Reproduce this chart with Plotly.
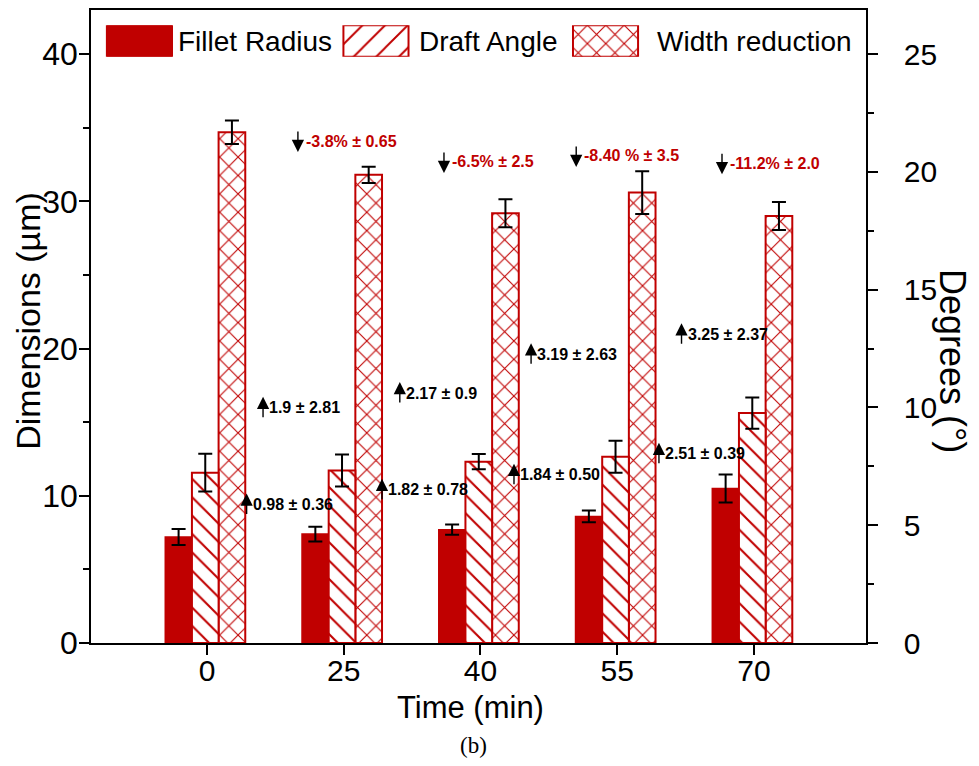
import plotly.graph_objects as go

# ---------------- data ----------------
time_labels = ["0", "25", "40", "55", "70"]
fillet_radius = [7.2, 7.4, 7.7, 8.6, 10.5]          # µm (left axis)
fillet_err = [0.55, 0.5, 0.35, 0.4, 0.95]
draft_angle = [7.23, 7.32, 7.7, 7.91, 9.76]          # degrees (right axis)
draft_err = [0.8, 0.68, 0.32, 0.68, 0.66]
width_reduction = [34.7, 31.8, 29.2, 30.6, 29.0]     # µm (left axis)
width_err = [0.8, 0.55, 0.95, 1.45, 0.95]

# increase annotations (black, up arrows): label, x (category units), y (µm)
up_labels = ["0.98 ± 0.36", "1.9 ± 2.81", "2.17 ± 0.9", "1.82 ± 0.78",
             "3.19 ± 2.63", "1.84 ± 0.50", "2.51 ± 0.39", "3.25 ± 2.37"]
up_x = [0.29, 0.41, 1.41, 1.28, 2.37, 2.245, 3.305, 3.47]
up_y = [9.4, 15.97, 16.98, 10.4, 19.62, 11.43, 12.86, 20.97]

# decrease annotations (red, down arrows)
down_labels = ["-3.8% ± 0.65", "-6.5% ± 2.5", "-8.40 % ± 3.5", "-11.2% ± 2.0"]
down_x = [0.665, 1.733, 2.70, 3.766]
down_y = [34.1, 32.68, 33.09, 32.6]

legend_names = ["Fillet Radius", "Draft Angle", "Width reduction"]

# ---------------- style ----------------
RED = "#C00000"
FONT = "Liberation Sans, Arial, sans-serif"
BAR_W = 0.195
idx = list(range(len(time_labels)))
Y_MAX = 43.0
DEG_PER_UM = 25.0 / 40.0

fig = go.Figure()

err_style = dict(type="data", color="black", thickness=2, width=7, visible=True)

fig.add_trace(go.Bar(
    x=idx, y=fillet_radius, width=BAR_W, offset=-0.305,
    marker=dict(color=RED, line=dict(color=RED, width=1.5)),
    error_y=dict(array=fillet_err, **err_style),
    name=legend_names[0], showlegend=False, yaxis="y"))

fig.add_trace(go.Bar(
    x=idx, y=draft_angle, width=BAR_W, offset=-0.11,
    marker=dict(color="white", line=dict(color=RED, width=2),
                pattern=dict(shape="\\", fgcolor=RED, bgcolor="white", fgopacity=1,
                             size=13, solidity=0.16)),
    error_y=dict(array=draft_err, **err_style),
    name=legend_names[1], showlegend=False, yaxis="y2"))

fig.add_trace(go.Bar(
    x=idx, y=width_reduction, width=BAR_W, offset=0.085,
    marker=dict(color="white", line=dict(color=RED, width=2),
                pattern=dict(shape="x", fgcolor=RED, bgcolor="white", fgopacity=1,
                             size=13, solidity=0.16)),
    error_y=dict(array=width_err, **err_style),
    name=legend_names[2], showlegend=False, yaxis="y"))

# ---------------- custom legend (overlay axes) ----------------
leg_centers = [0.0625, 0.3677, 0.6639]   # paper fraction of plot width
leg_w = 0.084
leg_patterns = [None,
                dict(shape="/", fgcolor=RED, bgcolor="white", fgopacity=1, size=16, solidity=0.12),
                dict(shape="x", fgcolor=RED, bgcolor="white", fgopacity=1, size=13, solidity=0.16)]
for c, p in zip(leg_centers, leg_patterns):
    mk = dict(color=RED if p is None else "white", line=dict(color=RED, width=2))
    if p is not None:
        mk["pattern"] = p
    fig.add_trace(go.Bar(x=[c], y=[1], width=leg_w, marker=mk, xaxis="x3", yaxis="y3",
                         showlegend=False, hoverinfo="skip"))

leg_text_x = [0.1097, 0.4206, 0.7277]
for name, lx in zip(legend_names, leg_text_x):
    fig.add_annotation(text=name, x=lx, y=0.951, xref="paper", yref="paper",
                       xanchor="left", yanchor="middle", showarrow=False,
                       font=dict(family=FONT, size=28, color="black"))

# ---------------- value annotations ----------------
for lab, x, y in zip(up_labels, up_x, up_y):
    fig.add_annotation(x=x, y=y + 0.75, xref="x", yref="y", text="", showarrow=True,
                       ax=0, ay=22, arrowhead=2, arrowsize=1.75, arrowwidth=1.4,
                       arrowcolor="black")
    fig.add_annotation(x=x, y=y, xref="x", yref="y", text=lab, showarrow=False,
                       xanchor="left", yanchor="middle", xshift=4,
                       font=dict(family=FONT, size=16, color="black", weight="bold"))

for lab, x, y in zip(down_labels, down_x, down_y):
    fig.add_annotation(x=x, y=y - 0.75, xref="x", yref="y", text="", showarrow=True,
                       ax=0, ay=-22, arrowhead=2, arrowsize=1.75, arrowwidth=1.4,
                       arrowcolor="black")
    fig.add_annotation(x=x, y=y, xref="x", yref="y", text=lab, showarrow=False,
                       xanchor="left", yanchor="middle", xshift=6,
                       font=dict(family=FONT, size=16, color=RED, weight="bold"))

# ---------------- axis titles ----------------
fig.add_annotation(text="Dimensions (µm)", x=-0.0813, y=0.509, xref="paper", yref="paper",
                   textangle=-90, showarrow=False, xanchor="center", yanchor="middle",
                   font=dict(family=FONT, size=34, color="black"))
fig.add_annotation(text="Degrees (°)", x=1.112, y=0.446, xref="paper", yref="paper",
                   textangle=90, showarrow=False, xanchor="center", yanchor="middle",
                   font=dict(family=FONT, size=36, color="black"))
fig.add_annotation(text="Time (min)", x=0.490, y=-0.102, xref="paper", yref="paper",
                   showarrow=False, xanchor="center", yanchor="middle",
                   font=dict(family=FONT, size=31, color="black"))
fig.add_annotation(text="(b)", x=0.494, y=-0.162, xref="paper", yref="paper",
                   showarrow=False, xanchor="center", yanchor="middle",
                   font=dict(family="Liberation Serif, Times New Roman, serif", size=23,
                             color="black"))

axis_common = dict(showline=True, linecolor="black", linewidth=1.5, showgrid=False,
                   zeroline=False, ticks="outside", tickcolor="black", tickwidth=1.5)

fig.update_layout(
    width=979, height=766,
    margin=dict(l=91, r=113, t=8, b=123),
    paper_bgcolor="white", plot_bgcolor="white",
    barmode="overlay",
    showlegend=False,
    xaxis=dict(range=[-0.848, 4.819], tickvals=idx, ticktext=time_labels, ticklen=10,
               mirror=True, ticklabelstandoff=-10,
               tickfont=dict(family=FONT, size=30, color="black"),
               **axis_common),
    yaxis=dict(range=[0, Y_MAX], dtick=10, tick0=0, ticklen=10, ticklabelstandoff=-5,
               minor=dict(dtick=5, ticklen=6, ticks="outside", tickcolor="black", tickwidth=1.5),
               tickfont=dict(family=FONT, size=32, color="black"), **axis_common),
    yaxis2=dict(range=[0, Y_MAX * DEG_PER_UM], dtick=5, tick0=0, ticklen=10,
                overlaying="y", side="right", ticklabelstandoff=20,
                minor=dict(dtick=2.5, ticklen=6, ticks="outside", tickcolor="black", tickwidth=1.5),
                tickfont=dict(family=FONT, size=30, color="black"), **axis_common),
    xaxis3=dict(domain=[0, 1], range=[0, 1], visible=False, anchor="y3", fixedrange=True),
    yaxis3=dict(domain=[0.926, 0.976], range=[0, 1], visible=False, anchor="x3", fixedrange=True),
)

fig.write_html("out.html")
